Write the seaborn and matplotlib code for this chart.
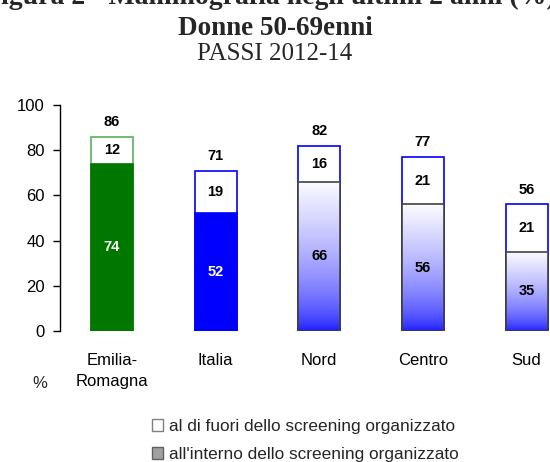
import numpy as np
import pandas as pd
import matplotlib
matplotlib.use("Agg")
import matplotlib.pyplot as plt
import seaborn as sns
from matplotlib.patches import Patch
from matplotlib.colors import to_rgb

# ---- data ----
categories = ["Emilia-\nRomagna", "Italia", "Nord", "Centro", "Sud"]
interno = [74, 52, 66, 56, 35]     # all'interno dello screening organizzato
fuori = [12, 19, 16, 21, 21]       # al di fuori dello screening organizzato
totale = [86, 71, 82, 77, 56]
legend_labels = ["al di fuori dello screening organizzato",
                 "all'interno dello screening organizzato"]

sns.set_theme(style="white")
plt.rcParams["font.family"] = ["Liberation Sans", "DejaVu Sans"]

W, H = 550, 462
fig = plt.figure(figsize=(W / 100, H / 100), dpi=100)
ax = fig.add_axes([60 / W, 1 - 331 / H, 518.5 / W, 226 / H])

df = pd.DataFrame({"cat": categories, "tot": totale, "int": interno, "fuo": fuori})

bw = 0.405
# totals (white top segment with coloured outline)
sns.barplot(data=df, x="cat", y="tot", color="white", width=bw, saturation=1, ax=ax)
top_edges = ["#5fae5f", "#0000ff", "#0000ff", "#0000ff", "#0000ff"]
for p, ec in zip(ax.patches, top_edges):
    p.set_edgecolor(ec)
    p.set_linewidth(1.2)
    p.set_zorder(2)
n0 = len(ax.patches)

# inner (organised screening) segment
fills = ["#007800", "#0000ff", "#1010ff", "#1010ff", "#1010ff"]
sns.barplot(data=df, x="cat", y="int", hue="cat", palette=fills, legend=False,
            width=bw, saturation=1, ax=ax)
inner = ax.patches[n0:]
bottom_edges = ["#007800", "#0000ff", "#404040", "#404040", "#404040"]
for p, ec in zip(inner, bottom_edges):
    p.set_edgecolor(ec)
    p.set_linewidth(1.2)
    p.set_zorder(4)

# gradient for macro-areas
top_c = np.array(to_rgb("#fbfbff"))
bot_c = np.array(to_rgb("#1414ff"))
t = (np.linspace(0, 1, 256) ** 0.6)[:, None]
grad = (bot_c[None, :] * (1 - t) + top_c[None, :] * t)[:, None, :]
for i in (2, 3, 4):
    p = inner[i]
    x0, y0 = p.get_x(), p.get_y()
    w, h = p.get_width(), p.get_height()
    p.set_facecolor("none")
    ax.imshow(grad, extent=[x0, x0 + w, y0, y0 + h], origin="lower",
              aspect="auto", interpolation="bilinear", zorder=3)

ax.set_xlim(-0.5, 4.5)
ax.set_ylim(0, 100)

# value labels
for i in range(len(categories)):
    ax.text(i, totale[i] + 6.5, f"{totale[i]}", ha="center", va="center",
            fontsize=10.5, fontweight="bold", color="black", zorder=6)
    ax.text(i, interno[i] + fuori[i] / 2, f"{fuori[i]}", ha="center", va="center",
            fontsize=10.5, fontweight="bold", color="black", zorder=6)
    ax.text(i, interno[i] / 2, f"{interno[i]}", ha="center", va="center",
            fontsize=10.5, fontweight="bold",
            color="white" if i < 2 else "black", zorder=6)

# axes styling
ax.set_yticks([0, 20, 40, 60, 80, 100])
ax.tick_params(axis="y", left=True, direction="out", length=5, width=1,
               pad=6, labelsize=12, colors="black")
ax.tick_params(axis="x", bottom=False, length=0, pad=16, labelsize=12,
               colors="black")
for lab in ax.get_xticklabels():
    lab.set_linespacing(1.45)
ax.set_xlabel("")
ax.set_ylabel("")
for s in ("top", "right", "bottom"):
    ax.spines[s].set_visible(False)
ax.spines["left"].set_color("black")
ax.spines["left"].set_linewidth(1)
ax.grid(False)

fig.text(40 / W, 1 - 383 / H, "%", ha="center", va="center", fontsize=12)

# titles
serif = ["Liberation Serif", "DejaVu Serif"]
fig.text(0.49, 1 - 4.5 / H, "Figura 2 - Mammografia negli ultimi 2 anni (%)",
         ha="center", va="baseline", fontsize=20, fontweight="bold", family=serif)
fig.text(0.5, 1 - 35 / H, "Donne 50-69enni", ha="center", va="baseline",
         fontsize=19.5, fontweight="bold", family=serif)
fig.text(0.5, 1 - 60 / H, "PASSI 2012-14", ha="center", va="baseline",
         fontsize=18, family=serif)

# legend
handles = [Patch(facecolor="white", edgecolor="#808080", linewidth=1),
           Patch(facecolor="#a0a0a0", edgecolor="#606060", linewidth=1)]
fig.legend(handles, legend_labels, loc="center left",
           bbox_to_anchor=(152 / W, 1 - 440.5 / H), frameon=False, fontsize=12.4,
           handlelength=0.65, handleheight=0.65, handletextpad=0.35,
           labelspacing=0.75, borderpad=0, borderaxespad=0)

fig.savefig("out.png", dpi=100)
